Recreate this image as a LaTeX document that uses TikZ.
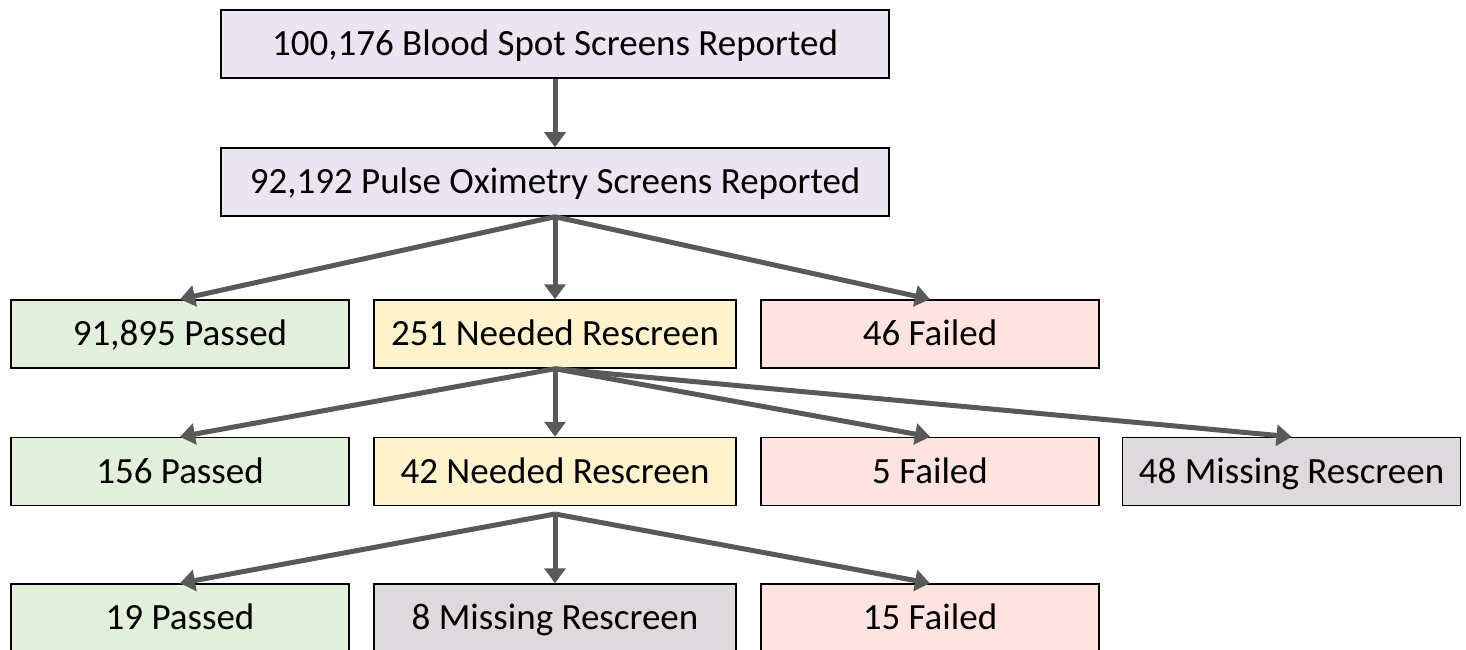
\documentclass[tikz,border=0pt]{standalone}
\usepackage{fontspec}
\setmainfont{Carlito}
\usetikzlibrary{arrows.meta}

\definecolor{boxpurple}{HTML}{EBE4F1}
\definecolor{boxgreen}{HTML}{E2EFDA}
\definecolor{boxyellow}{HTML}{FFF2CC}
\definecolor{boxred}{HTML}{FFE3E1}
\definecolor{boxgray}{HTML}{DDD9DD}
\definecolor{arrowgray}{HTML}{595959}

\tikzset{
  box/.style={draw=black, line width=1.5pt, minimum height=68pt, inner sep=0pt,
    text height=30pt, text depth=7pt, font=\fontsize{37}{42}\selectfont},
  wide/.style={box, minimum width=668pt},
  narrow/.style={box, minimum width=338pt},
  flow/.style={draw=arrowgray, line width=5pt, -{Triangle[length=15pt,width=21pt]}}
}

\begin{document}
\begin{tikzpicture}[x=1pt,y=-1pt]
\useasboundingbox (0,0) rectangle (1466,650);
\node[wide, fill=boxpurple] (blood) at (555,44) {100,176 Blood Spot Screens Reported};
\node[wide, fill=boxpurple] (pulse) at (555,182) {92,192 Pulse Oximetry Screens Reported};
\node[narrow, fill=boxgreen] (passA) at (180,334) {91,895 Passed};
\node[narrow, fill=boxyellow, minimum width=362pt] (rescA) at (555,334) {251 Needed Rescreen};
\node[narrow, fill=boxred] (failA) at (930,334) {46 Failed};
\node[narrow, fill=boxgreen] (passB) at (180,471.5) {156 Passed};
\node[narrow, fill=boxyellow, minimum width=362pt] (rescB) at (555,471.5) {42 Needed Rescreen};
\node[narrow, fill=boxred] (failB) at (930,471.5) {5 Failed};
\node[narrow, fill=boxgray] (missB) at (1291.5,471.5) {48 Missing Rescreen};
\node[narrow, fill=boxgreen] (passC) at (180,618) {19 Passed};
\node[narrow, fill=boxgray, minimum width=362pt] (missC) at (555,618) {8 Missing Rescreen};
\node[narrow, fill=boxred] (failC) at (930,618) {15 Failed};
\coordinate (split) at (555,514);
\draw [flow] (blood) -- (pulse);
\draw [flow] (pulse.south) -- (passA.north);
\draw [flow] (pulse.south) -- (rescA.north);
\draw [flow] (pulse.south) -- (failA.north);
\draw [flow] (rescA.south) -- (passB.north);
\draw [flow] (rescA.south) -- (rescB.north);
\draw [flow] (rescA.south) -- (failB.north);
\draw [flow] (rescA.south) -- (missB.north);
\draw [flow] (split) -- (passC.north);
\draw [flow] (split) -- (missC.north);
\draw [flow] (split) -- (failC.north);
\end{tikzpicture}
\end{document}
